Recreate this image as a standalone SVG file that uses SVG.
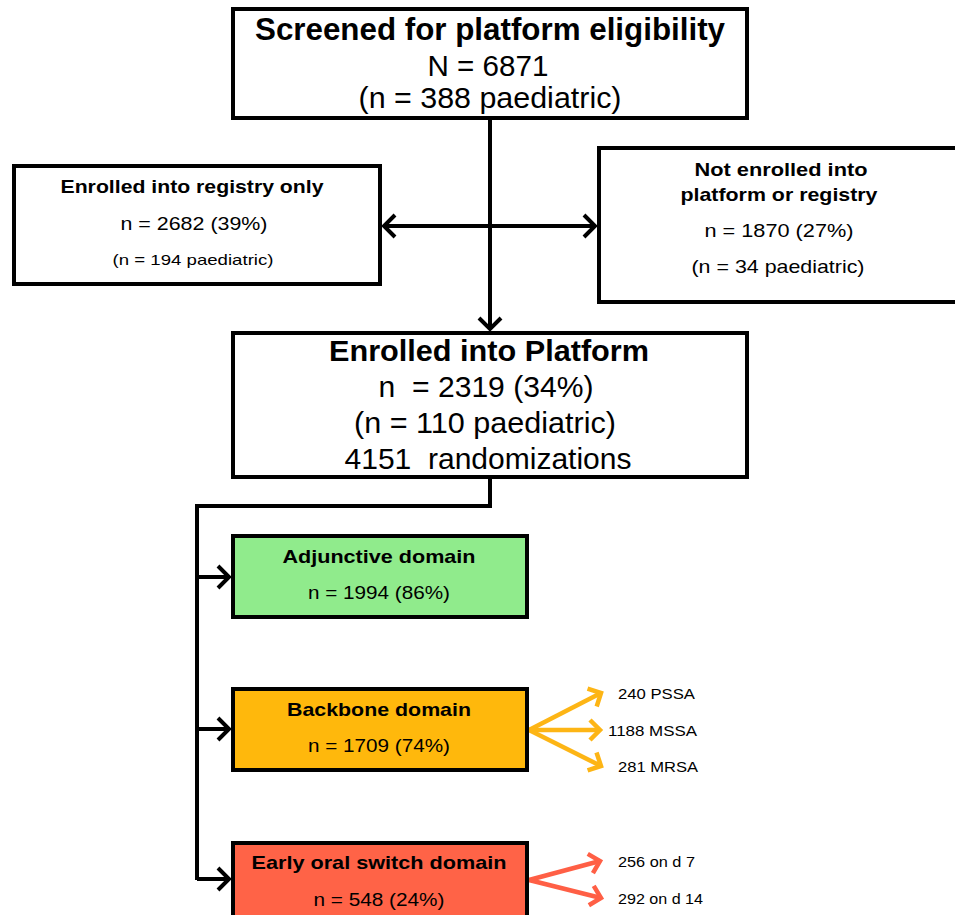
<svg xmlns="http://www.w3.org/2000/svg" width="955" height="915" viewBox="0 0 955 915">
<defs>
<style>
.box{fill:#fff;stroke:#000;stroke-width:4}
.t{font-family:"Liberation Sans",Arial,sans-serif;fill:#000;text-anchor:middle}
.b{font-weight:bold}
.k{fill:none;stroke:#000;stroke-width:4}
.o{fill:none;stroke:#FDB515;stroke-width:4.5}
.r{fill:none;stroke:#FF5F45;stroke-width:4.5}
.s{font-family:"Liberation Sans",Arial,sans-serif;fill:#000;font-size:15.5px}
</style>
<marker id="ak" markerUnits="userSpaceOnUse" markerWidth="30" markerHeight="30" refX="0" refY="0" viewBox="-15 -15 30 30" orient="auto"><path d="M-11,-11 L0,0 L-11,11" fill="none" stroke="#000" stroke-width="4"/></marker>
<marker id="ao" markerUnits="userSpaceOnUse" markerWidth="30" markerHeight="30" refX="0" refY="0" viewBox="-15 -15 30 30" orient="auto"><path d="M-10,-10 L0,0 L-10,10" fill="none" stroke="#FDB515" stroke-width="4.5"/></marker>
<marker id="ar" markerUnits="userSpaceOnUse" markerWidth="30" markerHeight="30" refX="0" refY="0" viewBox="-15 -15 30 30" orient="auto"><path d="M-10,-10 L0,0 L-10,10" fill="none" stroke="#FF5F45" stroke-width="4.5"/></marker>
</defs>
<rect width="955" height="915" fill="#fff"/>
<g id="connectors">
<path class="k" d="M490,118 L490,329" marker-end="url(#ak)"/>
<path class="k" d="M490,226 L384,226" marker-end="url(#ak)"/>
<path class="k" d="M490,226 L595,226" marker-end="url(#ak)"/>
<path class="k" d="M490,478 L490,506 L197,506 L197,880"/>
<path class="k" d="M197,577 L229,577" marker-end="url(#ak)"/>
<path class="k" d="M197,729 L229,729" marker-end="url(#ak)"/>
<path class="k" d="M197,879 L229,879" marker-end="url(#ak)"/>
<path class="o" d="M529,730 L601,693" marker-end="url(#ao)"/>
<path class="o" d="M529,730 L600,730" marker-end="url(#ao)"/>
<path class="o" d="M529,730 L601,766" marker-end="url(#ao)"/>
<path class="r" d="M529,880 L600,861" marker-end="url(#ar)"/>
<path class="r" d="M529,880 L601,898" marker-end="url(#ar)"/>
</g>
<g id="screened">
<rect class="box" x="233" y="9" width="514" height="109"/>
<text class="t b" x="490" y="40" font-size="31" textLength="470" lengthAdjust="spacingAndGlyphs">Screened for platform eligibility</text>
<text class="t" x="488" y="76" font-size="29" textLength="121" lengthAdjust="spacingAndGlyphs">N = 6871</text>
<text class="t" x="490" y="108" font-size="29" textLength="263" lengthAdjust="spacingAndGlyphs">(n = 388 paediatric)</text>
</g>
<g id="registry">
<rect class="box" x="14" y="166" width="366" height="118"/>
<text class="t b" x="192" y="193" font-size="19" textLength="263" lengthAdjust="spacingAndGlyphs">Enrolled into registry only</text>
<text class="t" x="194" y="230" font-size="19" textLength="147" lengthAdjust="spacingAndGlyphs">n = 2682 (39%)</text>
<text class="t" x="193" y="265" font-size="15" textLength="161" lengthAdjust="spacingAndGlyphs">(n = 194 paediatric)</text>
</g>
<g id="notenrolled">
<rect class="box" x="599" y="148" width="370" height="154"/>
<text class="t b" x="781" y="176" font-size="19" textLength="173" lengthAdjust="spacingAndGlyphs">Not enrolled into</text>
<text class="t b" x="779" y="201" font-size="19" textLength="197" lengthAdjust="spacingAndGlyphs">platform or registry</text>
<text class="t" x="779" y="237" font-size="19" textLength="149" lengthAdjust="spacingAndGlyphs">n = 1870 (27%)</text>
<text class="t" x="778" y="273" font-size="19" textLength="173" lengthAdjust="spacingAndGlyphs">(n = 34 paediatric)</text>
</g>
<g id="platform">
<rect class="box" x="233" y="333" width="514" height="144"/>
<text class="t b" x="489" y="361" font-size="30" textLength="320" lengthAdjust="spacingAndGlyphs">Enrolled into Platform</text>
<text class="t" x="486" y="397" font-size="30" textLength="215" lengthAdjust="spacingAndGlyphs" xml:space="preserve">n  = 2319 (34%)</text>
<text class="t" x="485" y="433" font-size="30" textLength="262" lengthAdjust="spacingAndGlyphs">(n = 110 paediatric)</text>
<text class="t" x="488" y="469" font-size="30" textLength="287" lengthAdjust="spacingAndGlyphs" xml:space="preserve">4151  randomizations</text>
</g>
<g id="adjunctive">
<rect class="box" x="233" y="536" width="294" height="81" style="fill:#90EB8C"/>
<text class="t b" x="379" y="563" font-size="19" textLength="193" lengthAdjust="spacingAndGlyphs">Adjunctive domain</text>
<text class="t" x="379" y="599" font-size="19" textLength="142" lengthAdjust="spacingAndGlyphs">n = 1994 (86%)</text>
</g>
<g id="backbone">
<rect class="box" x="233" y="689" width="294" height="81" style="fill:#FFB80C"/>
<text class="t b" x="379" y="716" font-size="19" textLength="184" lengthAdjust="spacingAndGlyphs">Backbone domain</text>
<text class="t" x="379" y="752" font-size="19" textLength="142" lengthAdjust="spacingAndGlyphs">n = 1709 (74%)</text>
</g>
<g id="earlyoral">
<rect class="box" x="233" y="843" width="294" height="90" style="fill:#FF6347"/>
<text class="t b" x="379" y="869" font-size="19" textLength="255" lengthAdjust="spacingAndGlyphs">Early oral switch domain</text>
<text class="t" x="379" y="906" font-size="19" textLength="131" lengthAdjust="spacingAndGlyphs">n = 548 (24%)</text>
</g>
<g id="backbone-labels">
<text class="s" x="618" y="699" textLength="77" lengthAdjust="spacingAndGlyphs">240 PSSA</text>
<text class="s" x="608" y="736" textLength="89" lengthAdjust="spacingAndGlyphs">1188 MSSA</text>
<text class="s" x="618" y="772" textLength="80" lengthAdjust="spacingAndGlyphs">281 MRSA</text>
</g>
<g id="earlyoral-labels">
<text class="s" x="618" y="867" textLength="77" lengthAdjust="spacingAndGlyphs">256 on d 7</text>
<text class="s" x="618" y="904" textLength="85" lengthAdjust="spacingAndGlyphs">292 on d 14</text>
</g>
</svg>
